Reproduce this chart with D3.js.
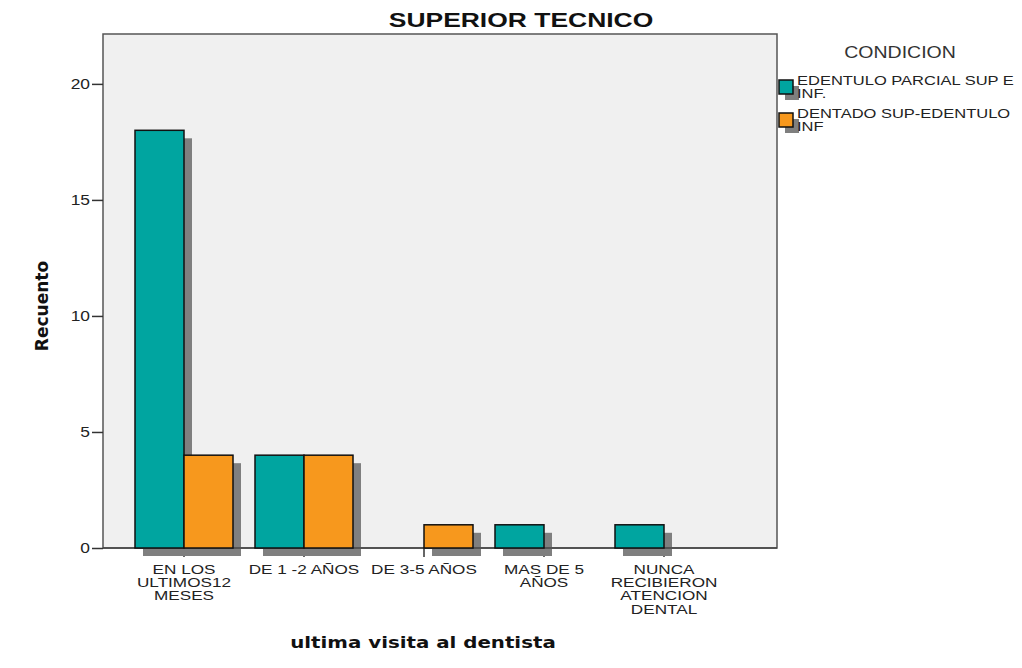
<!DOCTYPE html>
<html><head><meta charset="utf-8">
<script src="https://cdn.jsdelivr.net/npm/d3@7"></script>
<style>body{margin:0;background:#fff}svg{display:block}</style>
</head><body>
<svg id="c" width="1022" height="668"></svg>
<script>
const categories = [["EN LOS","ULTIMOS12","MESES"],["DE 1 -2 AÑOS"],["DE 3-5 AÑOS"],["MAS DE 5","AÑOS"],["NUNCA","RECIBIERON","ATENCION","DENTAL"]];
const catKeys = ["c1","c2","c3","c4","c5"];
const seriesNames = ["EDENTULO PARCIAL SUP E INF.","DENTADO SUP-EDENTULO INF"];
const legendLines = [["EDENTULO PARCIAL SUP E","INF."],["DENTADO SUP-EDENTULO","INF"]];
const edentuloParcial = [18,4,0,1,1];
const dentadoSup = [4,4,1,0,0];
const yTicks = [0,5,10,15,20];
const colors = ["#00A5A0","#F7981D"];

const svg = d3.select("#c");
const L=103, R=777, T=34, B=548;
const SANS = "Liberation Sans, Arial, sans-serif";
const y = d3.scaleLinear().domain([0,22.15]).range([B,T]);
const x0 = d3.scaleBand().domain(catKeys).range([124,724]).paddingInner(0).paddingOuter(0);
const x1 = d3.scaleBand().domain([0,1]).range([0,98]);
const off = (x0.bandwidth()-98)/2;

svg.append("rect").attr("x",L).attr("y",T).attr("width",R-L).attr("height",B-T).attr("fill","#F0F0F0").attr("stroke","#555").attr("stroke-width",1.5);

// y axis
const ya = svg.append("g").attr("transform",`translate(${L},0)`).call(d3.axisLeft(y).tickValues(yTicks).tickSize(11).tickFormat(""));
ya.select(".domain").remove();
ya.selectAll("line").attr("stroke","#333").attr("stroke-width",1.5);
svg.append("g").selectAll("text").data(yTicks).join("text")
  .attr("transform",d=>`translate(${L-13},${y(d)+5}) scale(1.2,1)`)
  .attr("text-anchor","end").attr("font-family",SANS).attr("font-size",14.5).attr("fill","#222").text(d=>d);

// x ticks
const xa = svg.append("g").attr("transform",`translate(0,${B})`).call(d3.axisBottom(x0).tickSize(9).tickFormat(""));
xa.select(".domain").remove();
xa.selectAll("line").attr("stroke","#333").attr("stroke-width",1.5);

const series = [edentuloParcial, dentadoSup];
const data = [];
catKeys.forEach((k,i)=>series.forEach((s,j)=>{ if(s[i]>0) data.push({k,j,v:s[i]}); }));

// shadows
svg.append("g").selectAll("rect").data(data).join("rect")
  .attr("x",d=>x0(d.k)+off+x1(d.j)+8)
  .attr("y",d=>y(d.v)+8)
  .attr("width",x1.bandwidth())
  .attr("height",d=>B-y(d.v))
  .attr("fill","#7F7F7F");

svg.append("line").attr("x1",L).attr("x2",R).attr("y1",B).attr("y2",B).attr("stroke","#444").attr("stroke-width",1.5);

svg.append("g").selectAll("rect").data(data).join("rect")
  .attr("x",d=>x0(d.k)+off+x1(d.j))
  .attr("y",d=>y(d.v))
  .attr("width",x1.bandwidth())
  .attr("height",d=>B-y(d.v))
  .attr("fill",d=>colors[d.j]).attr("stroke","#111").attr("stroke-width",1.5);

// category labels
const lab = svg.append("g");
categories.forEach((lines,i)=>{
  const t = lab.append("text").attr("transform",`translate(${x0(catKeys[i])+x0.bandwidth()/2},574) scale(1.3,1)`)
    .attr("text-anchor","middle").attr("font-family",SANS).attr("font-size",13.2).attr("fill","#222");
  lines.forEach((l,li)=>t.append("tspan").attr("x",0).attr("dy",li?13.2:0).text(l));
});

// titles
svg.append("text").attr("transform","translate(521,27) scale(1.26,1)").attr("text-anchor","middle").attr("font-family",SANS).attr("font-weight","bold").attr("font-size",21).attr("fill","#111").text("SUPERIOR TECNICO");
svg.append("text").attr("transform","translate(423,648) scale(1.2,1)").attr("text-anchor","middle").attr("font-family","DejaVu Sans, sans-serif").attr("font-weight","bold").attr("font-size",16.5).attr("fill","#111").text("ultima visita al dentista");
svg.append("text").attr("transform","translate(48,306) rotate(-90)").attr("text-anchor","middle").attr("font-family","DejaVu Sans, sans-serif").attr("font-weight","bold").attr("font-size",17).attr("fill","#111").text("Recuento");

// legend
svg.append("text").attr("transform","translate(900,58) scale(1.22,1)").attr("text-anchor","middle").attr("font-family",SANS).attr("font-size",16).attr("fill","#333").text("CONDICION");
const lg = svg.append("g").selectAll("g").data(seriesNames).join("g").attr("transform",(d,i)=>`translate(779,${80+i*33})`);
lg.append("rect").attr("x",6).attr("y",6).attr("width",14).attr("height",14).attr("fill","#7F7F7F");
lg.append("rect").attr("x",0).attr("y",0).attr("width",14).attr("height",14).attr("fill",(d,i)=>colors[i]).attr("stroke","#111").attr("stroke-width",1.5);
lg.each(function(d,i){
  const t = d3.select(this).append("text").attr("transform","translate(18,4.5) scale(1.32,1)").attr("font-family",SANS).attr("font-size",12.5).attr("fill","#222");
  legendLines[i].forEach((l,li)=>t.append("tspan").attr("x",0).attr("dy",li?14:0).text(l));
});
</script>
</body></html>
